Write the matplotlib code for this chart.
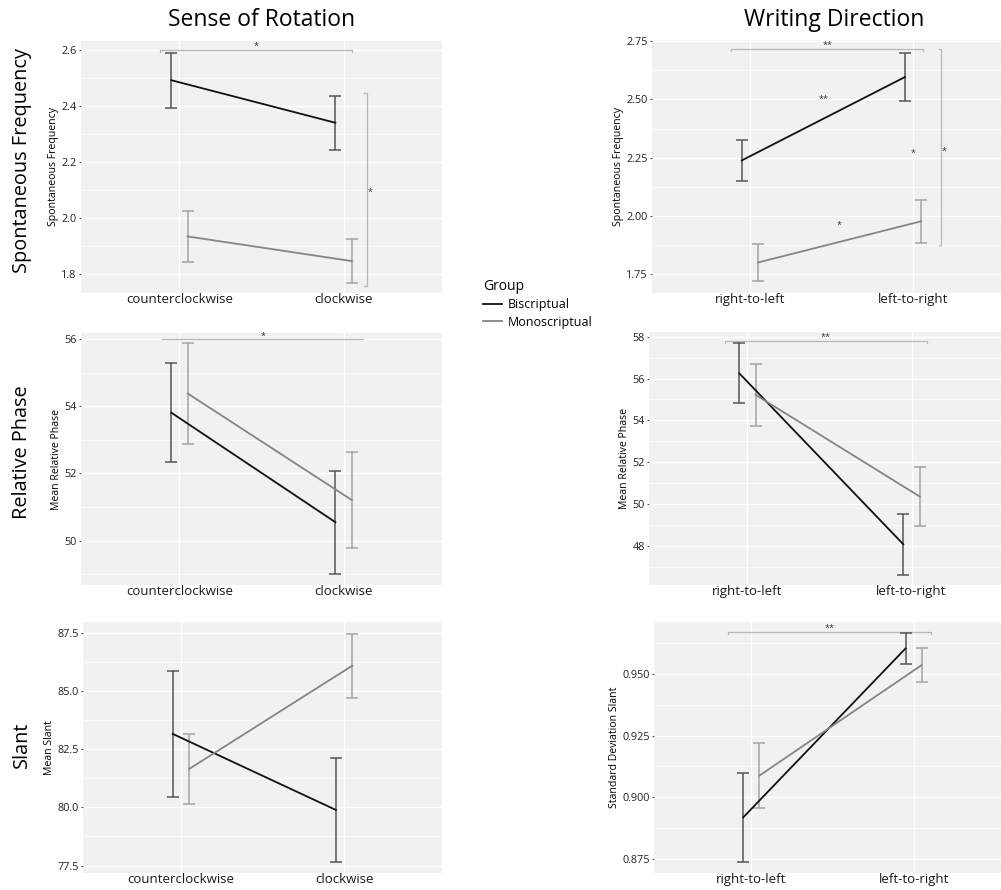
import matplotlib
matplotlib.use("Agg")
import matplotlib.pyplot as plt
from matplotlib.ticker import FixedLocator, FormatStrFormatter

plt.rcParams['font.family'] = ['Open Sans', 'DejaVu Sans']

W, H = 1001, 890

rotation = ["counterclockwise", "clockwise"]
direction = ["right-to-left", "left-to-right"]
groups = ["Biscriptual", "Monoscriptual"]

# spontaneous frequency
freq_rot_bi = [2.492, 2.34]
freq_rot_bi_err = [0.098, 0.097]
freq_rot_mono = [1.934, 1.846]
freq_rot_mono_err = [0.092, 0.08]
freq_dir_bi = [2.238, 2.596]
freq_dir_bi_err = [0.088, 0.104]
freq_dir_mono = [1.80, 1.977]
freq_dir_mono_err = [0.08, 0.092]

# relative phase
phase_rot_bi = [53.81, 50.55]
phase_rot_bi_err = [1.475, 1.535]
phase_rot_mono = [54.38, 51.21]
phase_rot_mono_err = [1.495, 1.415]
phase_dir_bi = [56.25, 48.09]
phase_dir_bi_err = [1.425, 1.45]
phase_dir_mono = [55.22, 50.37]
phase_dir_mono_err = [1.47, 1.40]

# slant
slant_rot_bi = [83.16, 79.89]
slant_rot_bi_err = [2.715, 2.25]
slant_rot_mono = [81.65, 86.09]
slant_rot_mono_err = [1.485, 1.38]
slant_dir_bi = [0.8919, 0.9602]
slant_dir_bi_err = [0.0179, 0.0063]
slant_dir_mono = [0.9088, 0.9535]
slant_dir_mono_err = [0.0133, 0.0069]

line_col = {"Biscriptual": "#111111", "Monoscriptual": "#858585"}
bar_col = {"Biscriptual": "#555555", "Monoscriptual": "#a3a3a3"}
shift = {"Biscriptual": -0.05, "Monoscriptual": 0.05}
brk_col = "#b8b8b8"


def rect(l, r, t, b):
    return [l / W, 1 - b / H, (r - l) / W, (b - t) / H]


fig = plt.figure(figsize=(W / 100, H / 100), dpi=100)


def panel(box, cats, bi, bi_err, mono, mono_err, ylim, yticks, fmt, ylabel):
    ax = fig.add_axes(rect(*box))
    ax.set_facecolor("#f1f1f1")
    for s in ax.spines.values():
        s.set_visible(False)
    handles = []
    for g, m, e in [("Biscriptual", bi, bi_err), ("Monoscriptual", mono, mono_err)]:
        xs = [i + 1 + shift[g] for i in range(len(cats))]
        ax.errorbar(xs, m, yerr=e, fmt="none", ecolor=bar_col[g], elinewidth=1.1,
                    capsize=4.5, capthick=1.1, zorder=3)
        h, = ax.plot(xs, m, color=line_col[g], lw=1.3, zorder=4, label=g)
        handles.append(h)
    ax.set_xlim(0.4, 2.6)
    ax.set_ylim(*ylim)
    ax.set_xticks([1, 2])
    ax.set_xticklabels(cats, fontsize=9.5, color="#1a1a1a")
    ax.yaxis.set_major_locator(FixedLocator(yticks))
    step = yticks[1] - yticks[0]
    minors = [yticks[0] - step / 2] + [t + step / 2 for t in yticks]
    ax.yaxis.set_minor_locator(FixedLocator(minors))
    ax.yaxis.set_major_formatter(FormatStrFormatter(fmt))
    ax.tick_params(axis="y", which="major", labelsize=7.8, length=1.5, width=0.8,
                   color="#555555", pad=1.5, labelcolor="#222222")
    ax.tick_params(axis="y", which="minor", length=0)
    ax.tick_params(axis="x", length=0, pad=0)
    ax.grid(True, which="major", color="white", lw=1.0, zorder=0)
    ax.grid(True, which="minor", axis="y", color="white", lw=0.5, zorder=0)
    ax.set_axisbelow(True)
    ax.set_ylabel(ylabel, fontsize=7.6, labelpad=2)
    return ax, handles


def bracket_h(ax, x0, x1, y, tick, label, ly, ticks=True):
    if ticks:
        ax.plot([x0, x0, x1, x1], [y - tick, y, y, y - tick], color=brk_col, lw=0.9, zorder=2)
    else:
        ax.plot([x0, x1], [y, y], color=brk_col, lw=0.9, zorder=2)
    ax.text((x0 + x1) / 2, ly, label, ha="center", va="center", fontsize=6.5, color="#333333")


def bracket_v(ax, x, y0, y1, tick, label, lx, ly):
    ax.plot([x - tick, x, x, x - tick], [y0, y0, y1, y1], color=brk_col, lw=0.9, zorder=2)
    ax.text(lx, ly, label, ha="center", va="center", fontsize=6.5, color="#333333")


def star(ax, x, y, label):
    ax.text(x, y, label, ha="center", va="center", fontsize=6.5, color="#333333")


ax1, handles = panel((81, 442, 41, 293), rotation, freq_rot_bi, freq_rot_bi_err,
                     freq_rot_mono, freq_rot_mono_err, (1.732, 2.632),
                     [1.8, 2.0, 2.2, 2.4, 2.6], "%.1f", "Spontaneous Frequency")
bracket_h(ax1, 0.88, 2.05, 2.6, 0.008, "*", 2.612)
bracket_v(ax1, 2.14, 2.447, 1.757, 0.015, "*", 2.16, 2.09)

ax2, _ = panel((652, 1011, 40, 293), direction, freq_dir_bi, freq_dir_bi_err,
               freq_dir_mono, freq_dir_mono_err, (1.669, 2.755),
               [1.75, 2.00, 2.25, 2.50, 2.75], "%.2f", "Spontaneous Frequency")
bracket_h(ax2, 0.885, 2.063, 2.716, 0.008, "**", 2.731)
bracket_v(ax2, 2.173, 2.717, 1.873, 0.015, "*", 2.19, 2.278)
star(ax2, 1.45, 2.50, "**")
star(ax2, 2.0, 2.266, "*")
star(ax2, 1.547, 1.957, "*")

ax3, _ = panel((81, 442, 333, 585), rotation, phase_rot_bi, phase_rot_bi_err,
               phase_rot_mono, phase_rot_mono_err, (48.68, 56.18),
               [50, 52, 54, 56], "%d", "Mean Relative Phase")
bracket_h(ax3, 0.894, 2.12, 56.0, 0.0, "*", 56.08, ticks=False)

ax4, _ = panel((649, 1010, 332, 585), direction, phase_dir_bi, phase_dir_bi_err,
               phase_dir_mono, phase_dir_mono_err, (46.15, 58.22),
               [48, 50, 52, 54, 56, 58], "%d", "Mean Relative Phase")
bracket_h(ax4, 0.863, 2.095, 57.78, 0.1, "**", 57.97)

ax5, _ = panel((83, 442, 622, 873), rotation, slant_rot_bi, slant_rot_bi_err,
               slant_rot_mono, slant_rot_mono_err, (77.18, 87.97),
               [77.5, 80.0, 82.5, 85.0, 87.5], "%.1f", "Mean Slant")

ax6, _ = panel((654, 1011, 622, 873), direction, slant_dir_bi, slant_dir_bi_err,
               slant_dir_mono, slant_dir_mono_err, (0.8694, 0.9709),
               [0.875, 0.900, 0.925, 0.950], "%.3f", "Standard Deviation Slant")
bracket_h(ax6, 0.855, 2.11, 0.9667, 0.0008, "**", 0.9685)

# column and row headings
fig.text(262 / W, 1 - 20 / H, "Sense of Rotation", ha="center", va="center", fontsize=16.5)
fig.text(834 / W, 1 - 20 / H, "Writing Direction", ha="center", va="center", fontsize=16.5)
fig.text(22 / W, 1 - 161 / H, "Spontaneous Frequency", ha="center", va="center",
         rotation=90, fontsize=14.3)
fig.text(22 / W, 1 - 452 / H, "Relative Phase", ha="center", va="center",
         rotation=90, fontsize=14.3)
fig.text(22 / W, 1 - 745 / H, "Slant", ha="center", va="center",
         rotation=90, fontsize=14.3)

leg = fig.legend(handles, groups, title="Group", loc="upper left",
                 bbox_to_anchor=(478 / W, 1 - 274 / H), frameon=False,
                 fontsize=9, title_fontsize=10, handlelength=1.5,
                 handletextpad=0.5, labelspacing=0.35, borderaxespad=0)
leg._legend_box.align = "left"

fig.savefig("out.png", dpi=100, facecolor="white")
